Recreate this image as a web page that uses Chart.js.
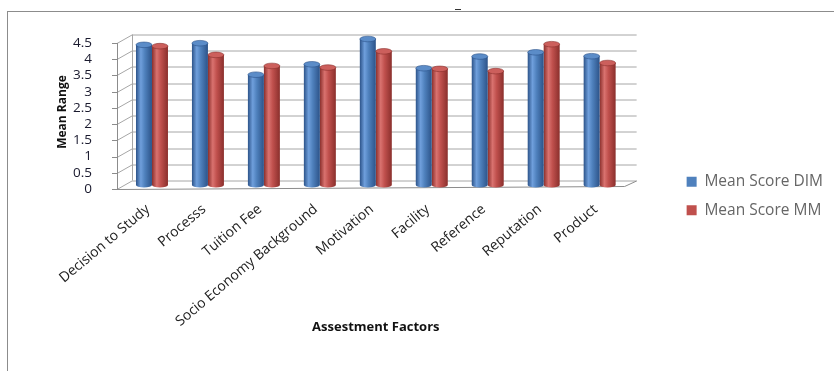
<!DOCTYPE html>
<html>
<head>
<meta charset="utf-8">
<script src="https://cdn.jsdelivr.net/npm/chart.js@4"></script>
<style>
html,body{margin:0;padding:0;background:#fff;}
#wrap{position:relative;width:834px;height:371px;}
#frame{position:absolute;left:7px;top:11px;width:827px;height:360px;border-top:1px solid #8c8c8c;border-left:1px solid #8c8c8c;box-sizing:border-box;}
#dash{position:absolute;left:455px;top:9px;width:6px;height:1px;background:#333;}
canvas{position:absolute;left:0;top:0;}
</style>
</head>
<body>
<div id="wrap">
<div id="frame"></div>
<div id="dash"></div>
<canvas id="c" width="834" height="371"></canvas>
</div>
<script>
const categories = ["Decision to Study","Processs","Tuition Fee","Socio Economy Background","Motivation","Facility","Reference","Reputation","Product"];
const meanScoreDIM = [4.32, 4.37, 3.40, 3.72, 4.50, 3.60, 3.96, 4.09, 3.97];
const meanScoreMM  = [4.28, 4.01, 3.67, 3.62, 4.12, 3.58, 3.51, 4.34, 3.76];
const yTicks = [0, 0.5, 1, 1.5, 2, 2.5, 3, 3.5, 4, 4.5];
const yTickLabels = ["0", "0.5", "1", "1.5", "2", "2.5", "3", "3.5", "4", "4.5"];
const seriesNames = ["Mean Score DIM", "Mean Score MM"];

const BAR_W = 16;
const LEGEND_GAP = 46;
const FONT = "'Open Sans', sans-serif";
const palettes = [
  {edge:'#2c5389', mid:'#4f81bd', light:'#6f9fdc', cap:'#5b8cc8', solid:'#4f81bd'},
  {edge:'#8a2f2c', mid:'#c0504d', light:'#d9726f', cap:'#cc5f5c', solid:'#c0504d'}
];

function cylGradient(ctx, dsIndex){
  const chart = ctx.chart;
  const xs = chart.scales.x;
  const p = palettes[dsIndex];
  if (!xs || ctx.type !== 'data') return p.solid;
  const c = xs.getPixelForValue(ctx.dataIndex);
  const x0 = dsIndex === 0 ? c - BAR_W : c;
  const g = chart.ctx.createLinearGradient(x0, 0, x0 + BAR_W, 0);
  g.addColorStop(0, p.edge);
  g.addColorStop(0.3, p.light);
  g.addColorStop(0.55, p.mid);
  g.addColorStop(1, p.edge);
  return g;
}

const legendGap = {
  id: 'legendGap',
  beforeLayout(chart){
    const lg = chart.legend;
    if (!lg || lg._gapPatched) return;
    lg._gapPatched = true;
    const fit = lg.fit.bind(lg);
    lg.fit = function(){ fit(); this.width += LEGEND_GAP; };
    const draw = lg.draw.bind(lg);
    lg.draw = function(){ const l = this.left; this.left += LEGEND_GAP; draw(); this.left = l; };
  }
};

const frame3d = {
  id: 'frame3d',
  beforeDatasetsDraw(chart){
    const {ctx, chartArea} = chart;
    const ys = chart.scales.y;
    const L = chartArea.left, R = chartArea.right;
    ctx.save();
    ctx.lineWidth = 1;
    yTicks.forEach(v => {
      const y = Math.round(ys.getPixelForValue(v));
      ctx.strokeStyle = '#a6a6a6';
      ctx.beginPath();
      ctx.moveTo(L + 8, y - 4.5 + 0.5);
      ctx.lineTo(R + 9, y - 4.5 + 0.5);
      ctx.stroke();
      ctx.beginPath();
      ctx.moveTo(L - 7, y + 4 + 0.5);
      ctx.lineTo(L + 8, y - 4.5 + 0.5);
      ctx.stroke();
      ctx.strokeStyle = '#8c8c8c';
      ctx.beginPath();
      ctx.moveTo(L - 12, y + 4 + 0.5);
      ctx.lineTo(L - 7, y + 4 + 0.5);
      ctx.stroke();
    });
    const yTop = ys.getPixelForValue(yTicks[yTicks.length-1]);
    const y0 = ys.getPixelForValue(0);
    ctx.strokeStyle = '#8c8c8c';
    ctx.beginPath();
    ctx.moveTo(L - 7 + 0.5, yTop + 4);
    ctx.lineTo(L - 7 + 0.5, y0 + 4);
    ctx.stroke();
    ctx.strokeStyle = '#a6a6a6';
    ctx.beginPath();
    ctx.moveTo(L + 8 + 0.5, yTop - 4.5);
    ctx.lineTo(L + 8 + 0.5, y0 - 4.5);
    ctx.stroke();
    ctx.strokeStyle = '#8c8c8c';
    ctx.beginPath();
    ctx.moveTo(L - 7, y0 + 4 + 0.5);
    ctx.lineTo(R - 3, y0 + 1 + 0.5);
    ctx.lineTo(R + 9, y0 - 4.5 + 0.5);
    ctx.stroke();
    ctx.restore();
  },
  afterDatasetsDraw(chart){
    const {ctx} = chart;
    chart.data.datasets.forEach((ds, di) => {
      const meta = chart.getDatasetMeta(di);
      const p = palettes[di];
      meta.data.forEach(bar => {
        const w = bar.width;
        ctx.save();
        const g = ctx.createLinearGradient(bar.x - w/2, 0, bar.x + w/2, 0);
        g.addColorStop(0, p.edge); g.addColorStop(0.3, p.light); g.addColorStop(0.55, p.mid); g.addColorStop(1, p.edge);
        ctx.fillStyle = g;
        ctx.beginPath();
        ctx.ellipse(bar.x, bar.base, w/2, 2.5, 0, 0, Math.PI);
        ctx.fill();
        ctx.fillStyle = p.cap;
        ctx.beginPath();
        ctx.ellipse(bar.x, bar.y, w/2, 2.8, 0, 0, Math.PI*2);
        ctx.fill();
        ctx.strokeStyle = p.edge;
        ctx.lineWidth = 0.6;
        ctx.stroke();
        ctx.restore();
      });
    });
  }
};

function build(){
  new Chart(document.getElementById('c'), {
    type: 'bar',
    data: {
      labels: categories,
      datasets: [
        {label: seriesNames[0], data: meanScoreDIM, backgroundColor: c => cylGradient(c, 0), borderWidth: 0},
        {label: seriesNames[1], data: meanScoreMM, backgroundColor: c => cylGradient(c, 1), borderWidth: 0}
      ]
    },
    plugins: [legendGap, frame3d],
    options: {
      responsive: false,
      animation: false,
      devicePixelRatio: 1,
      layout: {padding: {left: 51, top: 39, bottom: 32, right: 1}},
      datasets: {bar: {categoryPercentage: 32/56, barPercentage: 1.0}},
      scales: {
        x: {
          grid: {display: false},
          border: {display: false},
          ticks: {
            autoSkip: false, maxRotation: 40, minRotation: 40, padding: 8, labelOffset: -4,
            color: '#222', font: {family: FONT, size: 14}
          },
          title: {display: true, text: 'Assestment Factors', color: '#111',
            font: {family: FONT, size: 13, weight: 'bold'}},
          afterFit: s => { s.height = 154; }
        },
        y: {
          min: 0, max: 4.5,
          afterBuildTicks: s => { s.ticks = yTicks.map(v => ({value: v})); },
          grid: {display: false},
          border: {display: false},
          ticks: {autoSkip: false, padding: 24, labelOffset: 4, color: '#1a1a2e',
            font: {family: FONT, size: 13.5},
            callback: (v, i) => yTickLabels[i]},
          title: {display: true, text: 'Mean Range', color: '#111',
            font: {family: FONT, size: 12, weight: 'bold'}},
          afterFit: s => { s.width = 73; }
        }
      },
      plugins: {
        legend: {
          position: 'right',
          title: {display: true, text: ' ', font: {size: 10}, padding: {top: 1, bottom: 1}},
          labels: {
            boxWidth: 10, boxHeight: 10, padding: 13, color: '#222',
            font: {family: FONT, size: 15.5},
            generateLabels: chart => chart.data.datasets.map((ds, i) => ({
              text: ds.label, fillStyle: palettes[i].solid, strokeStyle: palettes[i].solid,
              lineWidth: 0, datasetIndex: i, hidden: false
            }))
          }
        },
        tooltip: {enabled: false}
      }
    }
  });
}
Promise.all([
  document.fonts.load("14px 'Open Sans'"),
  document.fonts.load("bold 12px 'Open Sans'")
]).then(build, build);
</script>
</body>
</html>
